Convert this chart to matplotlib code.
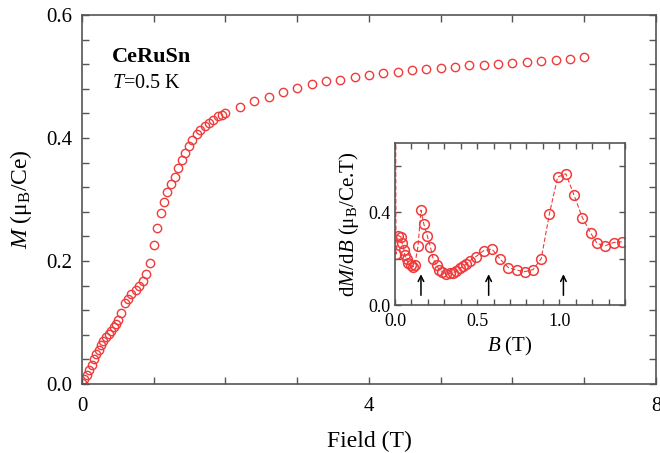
import matplotlib
matplotlib.use('Agg')
import matplotlib.pyplot as plt
from matplotlib.ticker import MultipleLocator, FixedLocator

plt.rcParams['font.family'] = 'Liberation Serif'
plt.rcParams['mathtext.fontset'] = 'custom'
plt.rcParams['mathtext.rm'] = 'Liberation Serif'
plt.rcParams['mathtext.it'] = 'Liberation Serif:italic'
plt.rcParams['mathtext.bf'] = 'Liberation Serif:bold'

# M(H) at T = 0.5 K
field = [0.005, 0.03, 0.065, 0.10, 0.135, 0.17, 0.20, 0.24, 0.26, 0.30, 0.33,
         0.37, 0.40, 0.44, 0.47, 0.50, 0.55, 0.60, 0.64, 0.69, 0.75, 0.80,
         0.85, 0.89, 0.95, 1.00, 1.05, 1.10, 1.15, 1.19, 1.24, 1.29, 1.34,
         1.39, 1.44, 1.49, 1.54, 1.60, 1.65, 1.71, 1.77, 1.83, 1.89, 1.95,
         2.00, 2.20, 2.40, 2.60, 2.80, 3.00, 3.20, 3.40, 3.60, 3.80, 4.00,
         4.20, 4.40, 4.60, 4.80, 5.00, 5.20, 5.40, 5.60, 5.80, 6.00, 6.20,
         6.40, 6.60, 6.80, 7.00]
moment = [0.002, 0.008, 0.015, 0.022, 0.031, 0.040, 0.049, 0.056, 0.063,
          0.070, 0.076, 0.081, 0.087, 0.092, 0.098, 0.104, 0.116, 0.131,
          0.139, 0.146, 0.153, 0.159, 0.168, 0.179, 0.197, 0.226, 0.254,
          0.278, 0.296, 0.312, 0.325, 0.337, 0.351, 0.364, 0.376, 0.387,
          0.397, 0.406, 0.413, 0.420, 0.425, 0.430, 0.435, 0.438, 0.441,
          0.450, 0.460, 0.467, 0.474, 0.481, 0.487, 0.492, 0.495, 0.499,
          0.502, 0.505, 0.508, 0.510, 0.512, 0.514, 0.516, 0.518, 0.519,
          0.521, 0.522, 0.524, 0.526, 0.527, 0.529, 0.531]

# dM/dB inset
b_in = [0.0, 0.006, 0.02, 0.036, 0.044, 0.055, 0.06, 0.07, 0.08, 0.095, 0.11,
        0.12, 0.14, 0.158, 0.176, 0.196, 0.216, 0.232, 0.253, 0.269, 0.289,
        0.309, 0.333, 0.353, 0.374, 0.394, 0.414, 0.434, 0.455, 0.49, 0.54,
        0.59, 0.64, 0.69, 0.74, 0.79, 0.84, 0.89, 0.94, 0.99, 1.04, 1.09,
        1.14, 1.19, 1.23, 1.28, 1.33, 1.38]
dmdb = [2.0, 0.22, 0.30, 0.295, 0.266, 0.237, 0.216, 0.197, 0.182, 0.172,
        0.165, 0.172, 0.254, 0.41, 0.348, 0.30, 0.249, 0.20, 0.172, 0.151,
        0.144, 0.134, 0.137, 0.139, 0.148, 0.158, 0.168, 0.177, 0.191, 0.208,
        0.235, 0.242, 0.198, 0.162, 0.151, 0.144, 0.153, 0.20, 0.395, 0.553,
        0.567, 0.474, 0.378, 0.312, 0.266, 0.256, 0.27, 0.273]
arrows_b = [0.158, 0.57, 1.025]

red = '#ef3b3b'
spine_col = '#555555'

fig = plt.figure(figsize=(6.6, 4.53), dpi=100)
ax = fig.add_axes([0.1242, 0.1523, 0.8697, 0.8146])

ax.plot(field, moment, 'o', mfc='none', mec=red, ms=6, mew=1.0)
ax.set_xlim(0, 8)
ax.set_ylim(0, 0.6)
ax.xaxis.set_major_locator(FixedLocator([0, 4, 8]))
ax.xaxis.set_minor_locator(MultipleLocator(1))
ax.yaxis.set_minor_locator(MultipleLocator(0.04))
ax.set_xticklabels(['0', '4', '8'])
ax.set_yticks([0, 0.2, 0.4, 0.6])
ax.set_yticklabels(['0.0', '0.2', '0.4', '0.6'])
ax.tick_params(which='both', direction='in', top=True, right=True,
               color=spine_col, labelsize=15, width=1)
ax.tick_params(which='major', length=5)
ax.tick_params(axis='x', which='major', pad=9)
ax.tick_params(axis='y', which='major', pad=7)
ax.tick_params(which='minor', length=5)
for s in ax.spines.values():
    s.set_color(spine_col)
    s.set_linewidth(1.2)
ax.set_xlabel('Field (T)', fontsize=17, labelpad=11)
ax.set_ylabel(r'$M$ ($\mathrm{μ_B}$/Ce)', fontsize=17, labelpad=9)

ax.text(0.052, 0.885, 'CeRuSn', transform=ax.transAxes, fontsize=16,
        fontweight='bold', va='center')
ax.text(0.052, 0.815, r'$T$=0.5 K', transform=ax.transAxes, fontsize=14.5,
        va='center')

# inset
ai = fig.add_axes([0.5985, 0.3267, 0.3485, 0.3576])
ai.plot(b_in, dmdb, '--', color=red, lw=0.8, dashes=(4, 2))
ai.plot(b_in, dmdb, 'o', mfc='none', mec=red, ms=7, mew=1.1)
ai.set_xlim(0, 1.4)
ai.set_ylim(0, 0.7)
ai.xaxis.set_minor_locator(MultipleLocator(0.1))
ai.yaxis.set_minor_locator(MultipleLocator(0.2))
ai.set_xticks([0, 0.5, 1.0])
ai.set_xticklabels(['0.0', '0.5', '1.0'])
ai.set_yticks([0, 0.4])
ai.set_yticklabels(['0.0', '0.4'])
ai.tick_params(which='both', direction='in', top=True, right=True,
               color=spine_col, labelsize=13, length=4, width=1)
ai.tick_params(axis='x', which='major', pad=6)
for s in ai.spines.values():
    s.set_color(spine_col)
    s.set_linewidth(1.2)
ai.set_xlabel(r'$B$ (T)', fontsize=15, labelpad=3)
ai.set_ylabel(r'd$M$/d$B$ ($\mathrm{μ_B}$/Ce.T)', fontsize=15, labelpad=5)

for b in arrows_b:
    ai.annotate('', xy=(b, 0.145), xytext=(b, 0.03),
                arrowprops=dict(arrowstyle='->', color='k', lw=1.1))

fig.savefig('out.png', dpi=100)
